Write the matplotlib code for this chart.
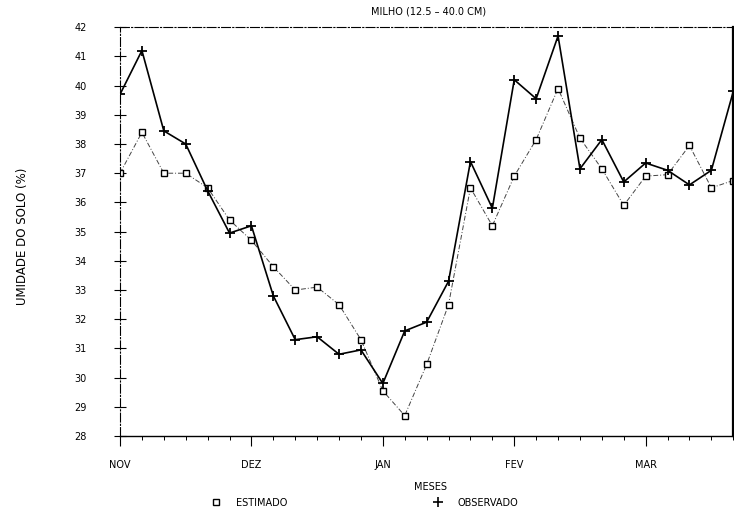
import numpy as np
import matplotlib
matplotlib.use("Agg")
from matplotlib import pyplot as plt
from matplotlib.lines import Line2D

# umidade do solo, milho 12.5-40.0 cm, 6 leituras por mes (nov - mar)
meses = ['NOV', 'DEZ', 'JAN', 'FEV', 'MAR']
estimado = [37.0, 38.4, 37.0, 37.0, 36.5, 35.4, 34.7,
            33.8, 33.0, 33.1, 32.5, 31.3, 29.55, 28.7,
            30.45, 32.5, 36.5, 35.2, 36.9, 38.15, 39.9,
            38.2, 37.15, 35.9, 36.9, 36.95, 37.95, 36.5, 36.75]
observado = [39.7, 41.2, 38.45, 38.0, 36.4, 34.95, 35.2,
             32.8, 31.3, 31.4, 30.8, 30.95, 29.8, 31.6,
             31.9, 33.3, 37.4, 35.8, 40.2, 39.55, 41.7,
             37.15, 38.15, 36.7, 37.35, 37.1, 36.6, 37.1, 39.8]
yticks = list(range(28, 43))

x = np.arange(len(observado))

fig = plt.figure(figsize=(7.34, 5.13), dpi=100)
ax = fig.add_axes([0.1635, 0.150, 0.8355, 0.797])

ax.plot(x, estimado, color='#444444', lw=0.7, ls=(0, (5, 2, 1, 2)),
        marker='s', ms=5, mfc='white', mec='black', mew=1.0, zorder=2)
ax.plot(x, observado, color='black', lw=1.2, ls='-',
        marker='+', ms=6.5, mew=1.3, zorder=3)

ax.set_xlim(0, 28)
ax.set_ylim(28, 42)
ax.set_yticks(yticks)
ax.set_xticks(np.arange(0, 25, 6))
ax.set_xticklabels(meses)
ax.set_xticks(x, minor=True)

ax.tick_params(axis='y', direction='inout', length=8, width=0.8,
               labelsize=7, pad=20)
ax.tick_params(axis='x', which='major', direction='out', length=7,
               width=0.8, labelsize=7, pad=10)
ax.tick_params(axis='x', which='minor', direction='out', length=3,
               width=0.7)

for s in ['left', 'top']:
    ax.spines[s].set_linestyle((0, (8, 2, 1, 2)))
    ax.spines[s].set_linewidth(0.8)
ax.spines['bottom'].set_linewidth(1.0)
ax.spines['right'].set_linewidth(1.6)

fig.text(0.584, 0.977, 'MILHO (12.5 \u2013 40.0 CM)', ha='center',
         va='center', fontsize=7)
fig.text(0.587, 0.051, 'MESES', ha='center', va='center', fontsize=7)
fig.text(0.030, 0.54, 'UMIDADE DO SOLO (%)', rotation=90, ha='center',
         va='center', fontsize=8.5)

h1 = Line2D([], [], ls='none', marker='s', ms=5, mfc='white', mec='black')
h2 = Line2D([], [], ls='none', marker='+', ms=6.5, mec='black', mew=1.2)
fig.legend([h1, h2], ['ESTIMADO', 'OBSERVADO'], loc='center',
           bbox_to_anchor=(0.497, 0.02), ncol=2, frameon=False,
           fontsize=7, handlelength=1.0, handletextpad=1.5,
           columnspacing=15)

fig.savefig('out.png', dpi=100)
